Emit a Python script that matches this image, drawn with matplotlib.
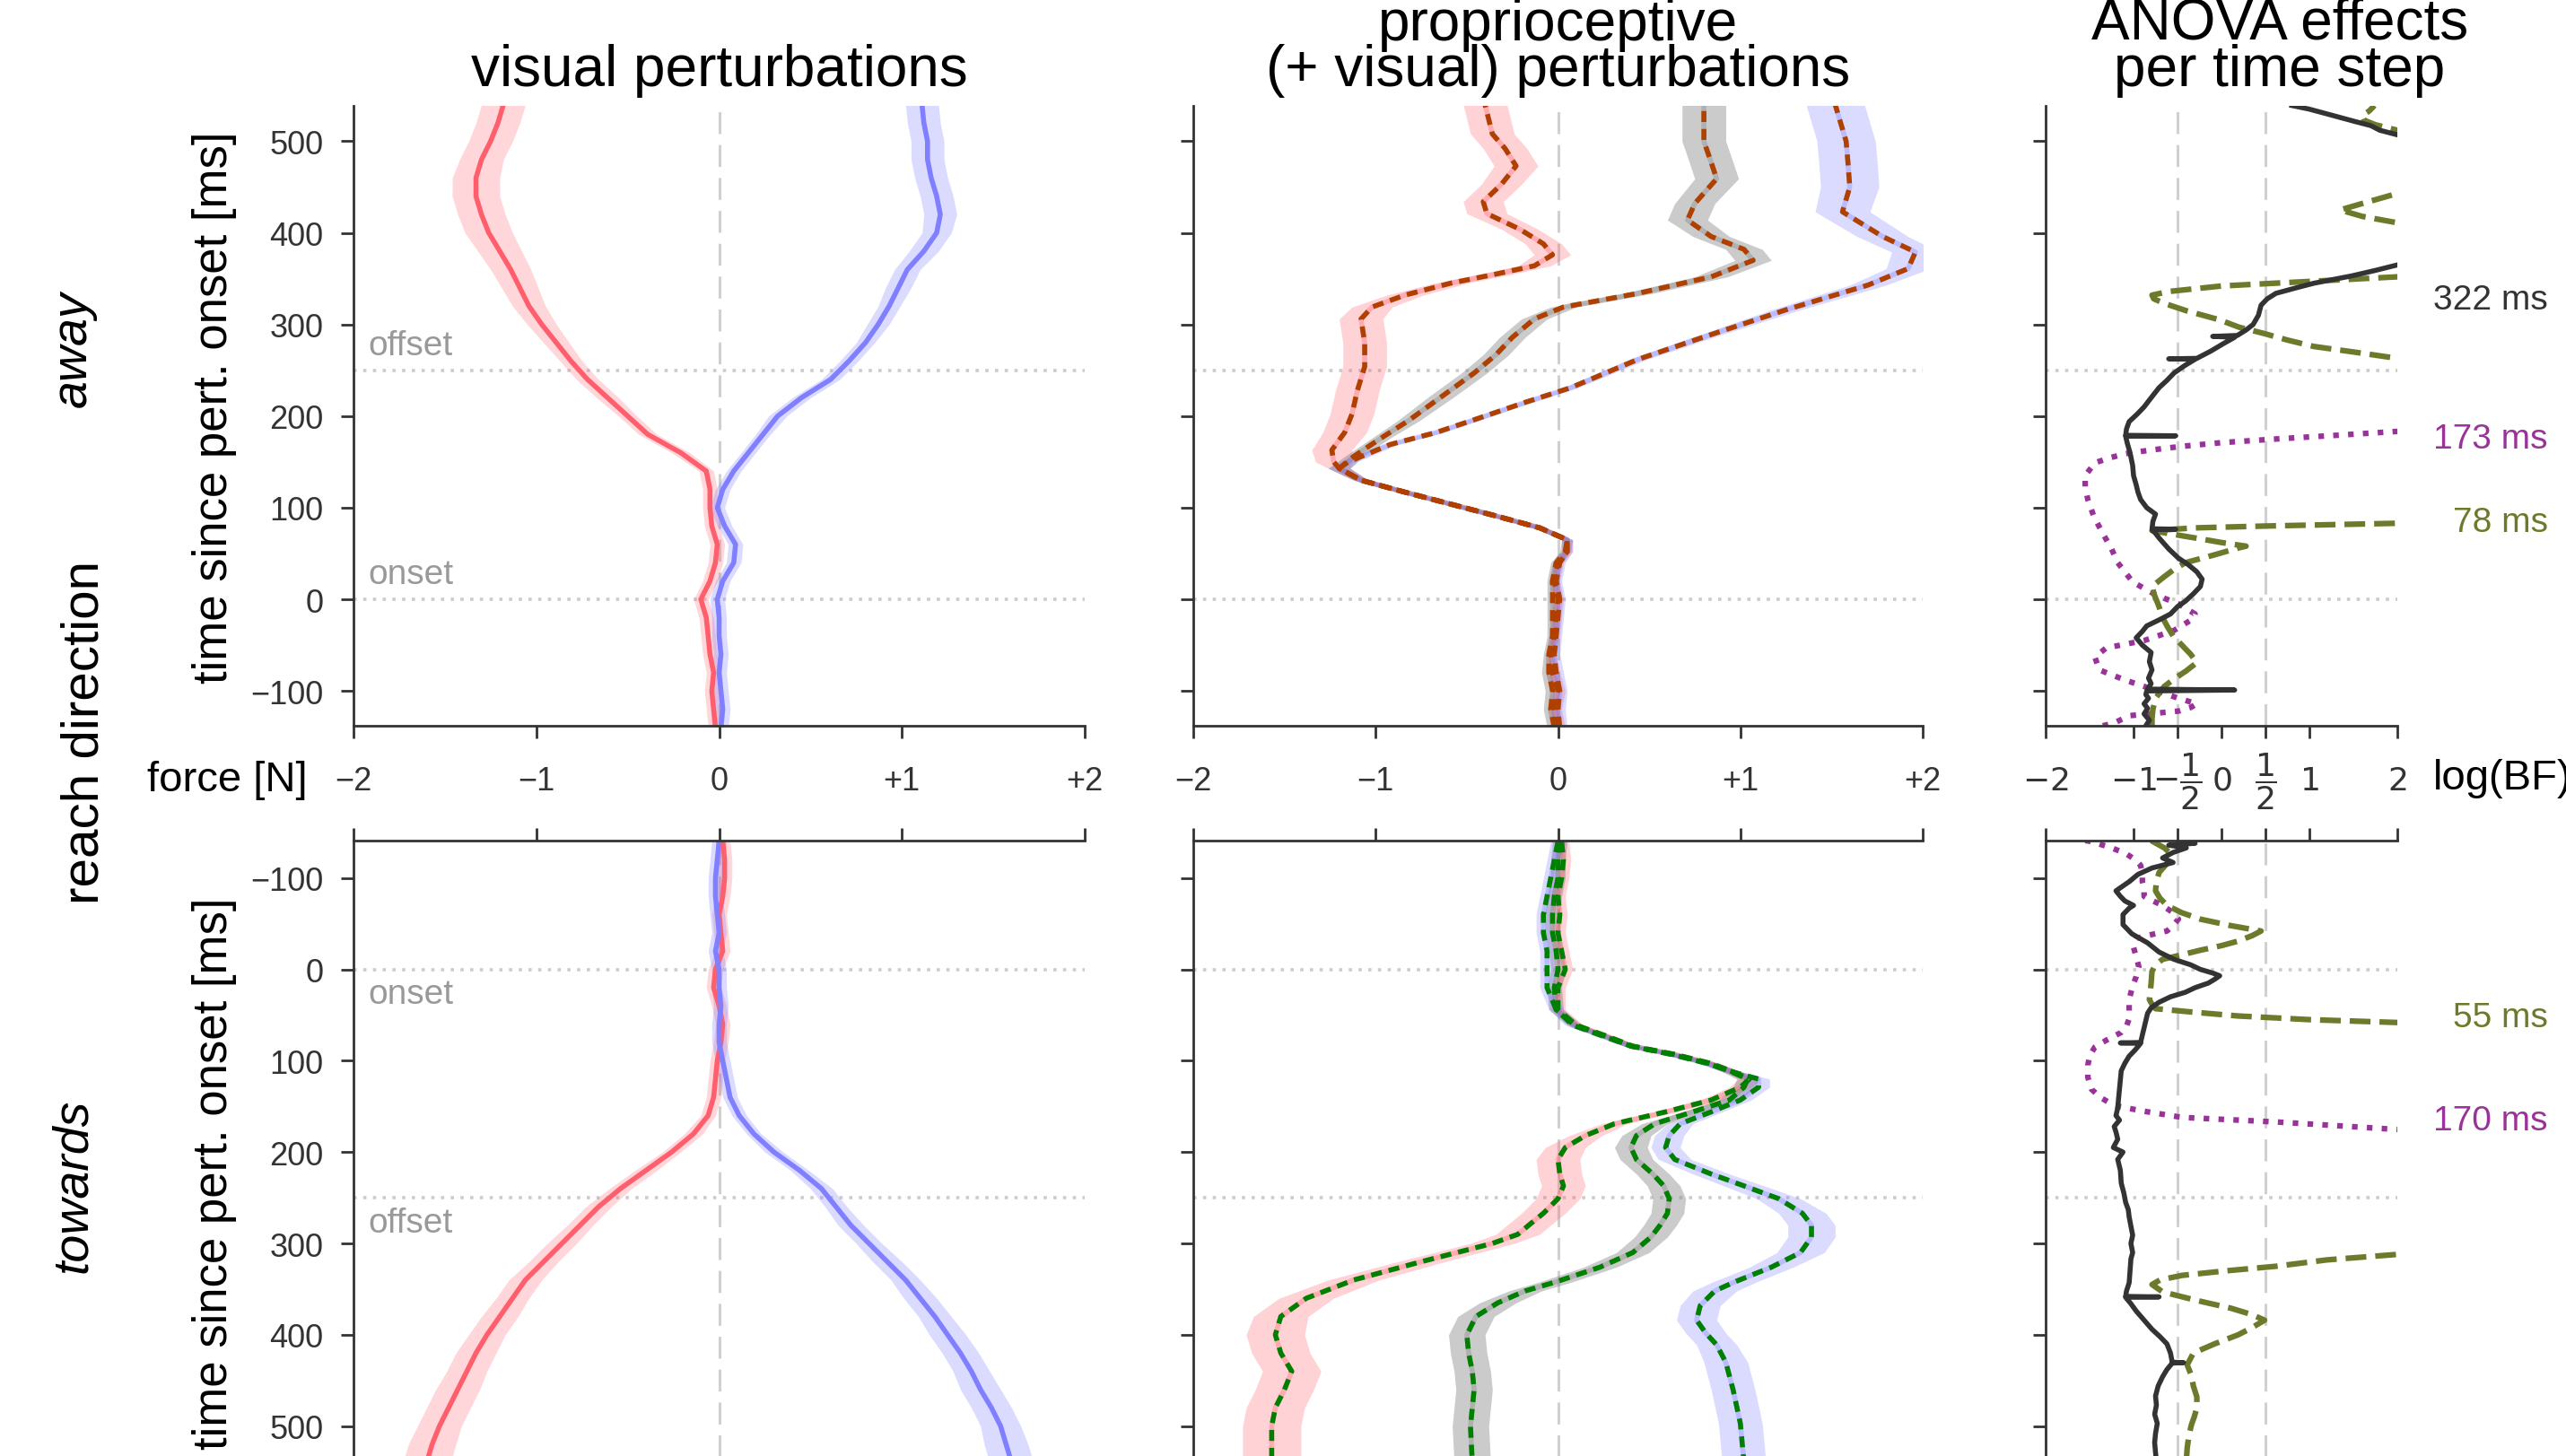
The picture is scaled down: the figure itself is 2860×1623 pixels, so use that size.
import numpy as np
import matplotlib
matplotlib.use("Agg")
import matplotlib.pyplot as plt

plt.rcParams["font.family"] = ["Liberation Sans", "DejaVu Sans"]
plt.rcParams["axes.linewidth"] = 2
plt.rcParams["axes.edgecolor"] = "#333333"

W, H = 2860, 1624

# ---- visual perturbations (left column), 20 ms samples ----
t_vis = np.arange(-140, 541, 20)
vis_away_red = [-0.02, -0.03, -0.04, -0.03, -0.05, -0.06, -0.07, -0.10, -0.05, -0.02, -0.01, -0.04, -0.05, -0.05,
                -0.07, -0.21, -0.39, -0.50, -0.61, -0.72, -0.81, -0.89, -0.97, -1.04, -1.09, -1.14, -1.20, -1.26,
                -1.30, -1.33, -1.33, -1.30, -1.25, -1.21, -1.18]
vis_away_red_se = [0.04] * 15 + [0.05, 0.05, 0.05, 0.06, 0.06, 0.06, 0.07, 0.08, 0.09, 0.10, 0.11, 0.12, 0.13,
                                 0.13, 0.13, 0.13, 0.12, 0.12, 0.12, 0.12]
vis_away_blue = [0.01, 0.02, 0.01, 0.0, 0.01, 0.0, 0.0, -0.01, 0.02, 0.08, 0.09, 0.03, -0.01, 0.02, 0.08, 0.16,
                 0.24, 0.32, 0.45, 0.61, 0.71, 0.80, 0.87, 0.93, 0.98, 1.03, 1.12, 1.19, 1.21, 1.19, 1.16, 1.14,
                 1.14, 1.12, 1.11]
vis_away_blue_se = [0.04] * 15 + [0.04, 0.04, 0.05, 0.05, 0.05, 0.05, 0.05, 0.06, 0.06, 0.07, 0.07, 0.08, 0.08,
                                  0.09, 0.09, 0.09, 0.09, 0.09, 0.09, 0.09]
vis_tow_red = [0.02, 0.03, 0.03, 0.02, 0.0, 0.01, 0.02, -0.02, -0.03, 0.0, 0.02, 0.01, -0.01, -0.02, -0.03,
               -0.06, -0.14, -0.26, -0.40, -0.54, -0.66, -0.76, -0.86, -0.96, -1.06, -1.13, -1.20, -1.27, -1.33,
               -1.38, -1.43, -1.48, -1.53, -1.57, -1.60]
vis_tow_red_se = [0.04] * 15 + [0.04, 0.05, 0.05, 0.06, 0.06, 0.07, 0.07, 0.08, 0.08, 0.09, 0.09, 0.10, 0.10,
                                0.11, 0.11, 0.12, 0.12, 0.12, 0.13, 0.13]
vis_tow_blue = [0.0, -0.01, -0.02, -0.02, -0.01, 0.0, -0.02, 0.0, 0.0, 0.01, 0.0, 0.0, 0.02, 0.04, 0.06, 0.11,
                0.19, 0.30, 0.44, 0.56, 0.64, 0.72, 0.82, 0.92, 1.02, 1.10, 1.18, 1.25, 1.32, 1.38, 1.43, 1.49,
                1.54, 1.57, 1.60]
vis_tow_blue_se = [0.04] * 15 + [0.04, 0.04, 0.05, 0.05, 0.06, 0.06, 0.07, 0.07, 0.08, 0.08, 0.09, 0.09, 0.10,
                                 0.10, 0.10, 0.11, 0.11, 0.11, 0.12, 0.12]

# ---- proprioceptive perturbations, away ----
t_pa_early = [-140, -120, -100, -80, -60, -40, -20, 0, 20, 40, 52, 65, 78, 91, 104, 117, 130, 143]
se_pa_early = [0.04, 0.04, 0.04, 0.04, 0.03, 0.03, 0.03, 0.03, 0.03, 0.03, 0.03, 0.03, 0.03, 0.03, 0.03, 0.03,
               0.04, 0.06]
t_pa_red = t_pa_early + [150, 163, 182, 202, 228, 254, 280, 306, 319, 332, 345, 355, 364, 376, 388, 404, 421, 434,
                         453, 473, 492, 508, 540]
pa_red = [0.0, -0.02, 0.0, -0.03, -0.04, -0.02, -0.01, 0.0, -0.02, 0.0, 0.05, 0.05, -0.10, -0.34, -0.59, -0.84,
          -1.08, -1.20, -1.23, -1.24, -1.17, -1.13, -1.10, -1.06, -1.06, -1.08, -1.02, -0.84, -0.59, -0.34, -0.13,
          -0.03, -0.08, -0.21, -0.39, -0.41, -0.31, -0.23, -0.29, -0.36, -0.40]
pa_red_se = se_pa_early + [0.10, 0.11, 0.12, 0.12, 0.12, 0.12, 0.12, 0.12, 0.11, 0.10, 0.09, 0.09, 0.09, 0.10,
                           0.10, 0.10, 0.11, 0.11, 0.11, 0.12, 0.12, 0.12, 0.12]
t_pa_gray = t_pa_early + [156, 176, 195, 221, 247, 267, 286, 306, 319, 334, 352, 370, 382, 396, 414, 432, 459, 477,
                          500, 540]
pa_gray = [-0.02, -0.04, -0.03, -0.05, -0.05, -0.03, -0.03, -0.03, -0.03, -0.01, 0.04, 0.05, -0.10, -0.34, -0.59,
           -0.84, -1.08, -1.20, -1.12, -0.97, -0.82, -0.64, -0.46, -0.34, -0.25, -0.13, 0.03, 0.44, 0.84, 1.07,
           1.02, 0.84, 0.71, 0.75, 0.87, 0.84, 0.80, 0.80]
pa_gray_se = se_pa_early + [0.05, 0.05, 0.06, 0.07, 0.07, 0.07, 0.07, 0.07, 0.07, 0.08, 0.09, 0.10, 0.10, 0.10,
                            0.11, 0.11, 0.12, 0.12, 0.12, 0.12]
t_pa_blue = t_pa_early + [150, 169, 182, 198, 215, 231, 262, 289, 316, 343, 361, 379, 396, 423, 450, 477, 500, 540]
pa_blue = [0.01, 0.0, 0.01, -0.01, -0.02, -0.01, 0.0, 0.01, -0.01, 0.01, 0.05, 0.05, -0.10, -0.34, -0.59, -0.84,
           -1.08, -1.20, -1.15, -0.92, -0.67, -0.43, -0.18, 0.07, 0.44, 0.84, 1.25, 1.70, 1.92, 1.96, 1.78, 1.56,
           1.60, 1.59, 1.58, 1.52]
pa_blue_se = se_pa_early + [0.05, 0.04, 0.04, 0.04, 0.04, 0.04, 0.05, 0.06, 0.08, 0.10, 0.12, 0.13, 0.14, 0.15,
                            0.16, 0.16, 0.16, 0.16]

# ---- proprioceptive perturbations, towards ----
t_pt_early = [-140, -120, -100, -80, -60, -40, -20, 0, 20, 44, 61, 74, 84, 93, 103, 113]
se_pt_early = [0.04] * 14 + [0.05, 0.05]
t_pt_red = t_pt_early + [120, 129, 143, 156, 169, 182, 195, 208, 224, 237, 251, 267, 280, 290, 300, 320, 340, 360,
                         380, 400, 420, 440, 460, 480, 500, 540]
pt_red = [0.02, 0.03, 0.02, 0.0, 0.01, 0.0, 0.02, 0.04, 0.0, 0.0, 0.10, 0.28, 0.41, 0.64, 0.84, 0.97,
          1.05, 1.00, 0.84, 0.59, 0.31, 0.15, 0.04, 0.0, 0.01, 0.03, 0.0, -0.08, -0.16, -0.22, -0.36, -0.75,
          -1.12, -1.38, -1.52, -1.55, -1.52, -1.46, -1.50, -1.55, -1.57, -1.57]
pt_red_se = se_pt_early + [0.06, 0.06, 0.06, 0.06, 0.07, 0.09, 0.11, 0.12, 0.12, 0.12, 0.12, 0.12, 0.12, 0.12,
                           0.12, 0.13, 0.14, 0.15, 0.15, 0.16, 0.16, 0.16, 0.16, 0.16, 0.16, 0.16]
t_pt_gray = t_pt_early + [120, 129, 143, 156, 169, 182, 195, 208, 224, 237, 251, 267, 280, 293, 310, 326, 342, 352,
                          365, 380, 400, 420, 440, 460, 480, 500, 540]
pt_gray = [0.01, 0.0, 0.0, -0.02, -0.03, -0.03, -0.01, 0.0, -0.02, -0.01, 0.09, 0.27, 0.40, 0.63, 0.83, 0.96,
           1.04, 1.02, 0.94, 0.74, 0.53, 0.43, 0.40, 0.43, 0.52, 0.58, 0.61, 0.60, 0.56, 0.51, 0.41, 0.23, -0.01,
           -0.18, -0.33, -0.45, -0.50, -0.49, -0.47, -0.46, -0.47, -0.48, -0.47]
pt_gray_se = se_pt_early + [0.06, 0.06, 0.06, 0.06, 0.07, 0.08, 0.09, 0.09, 0.09, 0.09, 0.09, 0.09, 0.09, 0.09,
                            0.09, 0.09, 0.09, 0.09, 0.10, 0.10, 0.10, 0.10, 0.10, 0.10, 0.10, 0.10, 0.10]
t_pt_blue = t_pt_early + [120, 129, 143, 156, 169, 182, 195, 208, 224, 237, 251, 267, 280, 293, 310, 326, 342, 352,
                          368, 384, 398, 411, 430, 460, 497, 540]
pt_blue = [0.0, -0.02, -0.04, -0.06, -0.08, -0.08, -0.06, -0.06, -0.06, -0.01, 0.08, 0.26, 0.40, 0.62, 0.82, 0.97,
           1.10, 1.10, 1.00, 0.84, 0.67, 0.61, 0.59, 0.64, 0.84, 1.02, 1.21, 1.34, 1.39, 1.39, 1.33, 1.17, 0.97,
           0.86, 0.78, 0.76, 0.81, 0.87, 0.92, 0.96, 1.00, 1.02]
pt_blue_se = se_pt_early + [0.06, 0.06, 0.06, 0.06, 0.07, 0.08, 0.08, 0.09, 0.10, 0.11, 0.12, 0.13, 0.13, 0.13,
                            0.13, 0.12, 0.12, 0.12, 0.11, 0.11, 0.11, 0.11, 0.12, 0.12, 0.12, 0.12]

# ---- ANOVA log Bayes factors, away ----
t_an_a_k = [-138, -132, -125, -119, -114, -108, -104, -100, -99, -98, -92, -86, -77, -68, -58, -50, -42, -35, -29,
            -22, -16, -8, -2, 6, 14, 22, 30, 38, 45, 55, 67, 72, 76, 76.5, 77, 85, 93, 100, 109, 117, 125, 135,
            146, 160, 170, 178, 178.5, 179, 186, 194, 202, 210, 220, 231, 239, 247, 255, 262, 262.5, 263, 271,
            279, 286, 287, 288, 294, 300, 310, 321, 328, 334, 340, 345, 353, 359, 365, 380, 500, 507, 512, 517,
            522, 528, 535, 539]
an_a_k = [-0.86, -0.82, -0.88, -0.84, -0.88, -0.83, -0.86, -0.85, 0.15, -0.84, -0.8, -0.83, -0.79, -0.82, -0.8,
          -0.9, -0.97, -0.9, -0.85, -0.7, -0.58, -0.5, -0.41, -0.32, -0.24, -0.22, -0.28, -0.38, -0.49, -0.6,
          -0.71, -0.75, -0.79, -0.52, -0.79, -0.78, -0.75, -0.85, -0.92, -0.95, -0.97, -1.0, -1.01, -1.04, -1.07,
          -1.09, -0.52, -1.09, -1.08, -1.05, -0.96, -0.88, -0.8, -0.71, -0.62, -0.54, -0.42, -0.3, -0.6, -0.28,
          -0.12, 0.02, 0.15, -0.1, 0.18, 0.28, 0.36, 0.42, 0.45, 0.52, 0.62, 0.85, 1.05, 1.48, 1.75, 2.0, 2.6,
          2.6, 2.0, 1.8, 1.7, 1.5, 1.27, 1.0, 0.8]
t_an_a_o = [-138, -130, -120, -108, -95, -87, -78, -69, -60, -50, -40, -29, -18, -8, 4, 14, 24, 32, 40, 48, 56,
            58, 62, 66, 71, 75, 78, 80, 83, 90, 255, 263, 270, 276, 283, 290, 297, 305, 315, 323, 328, 332, 336,
            342, 347, 352, 360, 405, 411, 418, 425, 432, 443, 450, 505, 512, 518, 523, 528, 533, 539]
an_a_o = [-0.79, -0.79, -0.78, -0.75, -0.65, -0.54, -0.4, -0.28, -0.35, -0.45, -0.55, -0.62, -0.68, -0.71, -0.76,
          -0.79, -0.66, -0.55, -0.41, -0.1, 0.19, 0.28, 0.0, -0.24, -0.55, -0.79, -0.3, 0.5, 2.0, 3.5, 3.5, 2.0,
          1.5, 1.05, 0.75, 0.49, 0.2, -0.02, -0.4, -0.65, -0.77, -0.79, -0.6, 0.0, 1.0, 2.0, 3.5, 3.5, 2.0, 1.6,
          1.35, 1.6, 2.0, 3.5, 3.5, 2.0, 1.75, 1.62, 1.6, 1.68, 1.74]
t_an_a_p = [-138, -135, -127, -122, -118, -114, -108, -98, -88, -77, -63, -53, -45, -34, -21, -16, -5, 5, 19, 40,
            55, 72, 90, 109, 122, 135, 149, 155, 159, 163, 167, 171, 175, 179, 183, 190, 539]
an_a_p = [-1.35, -1.22, -1.05, -0.49, -0.35, -0.28, -0.49, -0.79, -1.1, -1.39, -1.44, -1.31, -0.88, -0.54, -0.32,
          -0.3, -0.49, -0.75, -1.01, -1.18, -1.25, -1.35, -1.45, -1.52, -1.55, -1.55, -1.44, -1.25, -1.09, -0.8,
          -0.45, 0.0, 0.62, 1.3, 1.95, 3.5, 3.5]

# ---- ANOVA log Bayes factors, towards ----
t_an_t_k = [-141, -138, -136, -133, -128, -122, -117, -111, -104, -96, -86, -80, -75, -70, -67, -60, -49, -39, -29,
            -19, -11, -5, 0, 4, 7, 11, 15, 20, 25, 30, 36, 42, 48, 56, 64, 72, 80, 80.5, 81, 88, 95, 103, 111, 121,
            131, 141, 152, 160, 165, 172, 178, 186, 195, 200, 208, 220, 234, 245, 255, 263, 271, 281, 291, 300,
            310, 317, 330, 343, 352, 358, 358.5, 359, 366, 374, 384, 394, 402, 410, 420, 430, 430.5, 431, 438,
            446, 456, 467, 477, 487, 497, 508, 518, 529, 538]
an_t_k = [-0.49, -0.3, -0.6, -0.4, -0.55, -0.67, -0.55, -0.79, -0.95, -1.05, -1.2, -1.15, -1.1, -1.0, -1.05,
          -1.12, -1.12, -1.02, -0.84, -0.71, -0.54, -0.35, -0.24, -0.1, -0.02, -0.08, -0.15, -0.3, -0.41, -0.58,
          -0.71, -0.8, -0.84, -0.86, -0.88, -0.9, -0.92, -1.15, -0.92, -0.98, -1.05, -1.1, -1.14, -1.15, -1.16,
          -1.17, -1.18, -1.2, -1.16, -1.22, -1.2, -1.18, -1.23, -1.12, -1.18, -1.15, -1.14, -1.11, -1.09, -1.06,
          -1.05, -1.03, -1.01, -1.03, -1.01, -1.03, -1.04, -1.05, -1.08, -1.09, -0.71, -1.09, -1.03, -0.97, -0.88,
          -0.79, -0.7, -0.62, -0.58, -0.56, -0.43, -0.56, -0.62, -0.67, -0.72, -0.75, -0.74, -0.76, -0.73, -0.75,
          -0.76, -0.75, -0.74]
t_an_t_o = [-141, -133, -127, -118, -106, -96, -86, -78, -70, -62, -55, -48, -42, -37, -31, -26, -21, -16, -11, -5,
            2, 15, 25, 33, 40, 43, 47, 51, 55, 58, 62, 305, 312, 318, 325, 330, 335, 340, 345, 353, 362, 371, 378,
            384, 392, 400, 410, 420, 433, 445, 456, 468, 480, 490, 498, 510, 524, 538]
an_t_o = [-0.8, -0.65, -0.58, -0.6, -0.71, -0.74, -0.75, -0.7, -0.62, -0.45, -0.24, 0.1, 0.45, 0.35, 0.19, 0.0,
          -0.24, -0.45, -0.67, -0.75, -0.79, -0.8, -0.81, -0.82, -0.78, -0.75, -0.3, 0.19, 1.0, 1.95, 3.5, 3.5,
          2.0, 1.2, 0.62, 0.05, -0.45, -0.7, -0.79, -0.67, -0.3, 0.11, 0.35, 0.49, 0.35, 0.19, -0.08, -0.32,
          -0.39, -0.34, -0.32, -0.28, -0.28, -0.31, -0.34, -0.37, -0.39, -0.4]
t_an_t_p = [-141, -140, -133, -127, -120, -114, -105, -96, -88, -80, -75, -70, -62, -55, -48, -42, -38, -34, -29,
            -24, -14, -3, 8, 18, 33, 44, 54, 62, 69, 77, 85, 95, 105, 118, 131, 140, 149, 155, 162, 167, 171, 175,
            182, 538]
an_t_p = [-1.55, -1.48, -1.25, -1.09, -0.98, -0.92, -0.9, -0.9, -0.88, -0.88, -0.78, -0.67, -0.55, -0.49, -0.55,
          -0.62, -0.8, -0.97, -1.0, -1.0, -0.97, -0.94, -0.97, -1.01, -1.05, -1.05, -1.05, -1.08, -1.14, -1.3,
          -1.44, -1.5, -1.52, -1.52, -1.48, -1.38, -1.22, -0.9, -0.45, 0.62, 1.3, 1.95, 3.5, 3.5]

force_ticks = [-2, -1, 0, 1, 2]
force_labels = ["\u22122", "\u22121", "0", "+1", "+2"]
bf_ticks = [-2, -1, -0.5, 0, 0.5, 1, 2]
bf_labels = [r"$-2$", r"$-1$", r"$-\dfrac{1}{2}$", r"$0$", r"$\dfrac{1}{2}$", r"$1$", r"$2$"]
time_ticks = [-100, 0, 100, 200, 300, 400, 500]

RED, BLUE, GRAY = "#ff5f6d", "#7f7fff", "#7f7f7f"
BROWN, GREEN = "#b04000", "#008000"
K, OLIVE, PURPLE = "#333333", "#6b7b2b", "#993399"


def fpos(x, y):
    return x / W, 1 - y / H


fig = plt.figure(figsize=(W / 100, H / 100), dpi=100)
cols = [(394, 815), (1330, 813), (2280, 392)]
rows = [(118.6, 691.4), (938, 691.4)]
axes = [[None] * 3 for _ in range(2)]
for r, (top, h) in enumerate(rows):
    for c, (left, w) in enumerate(cols):
        ax = fig.add_axes([left / W, 1 - (top + h) / H, w / W, h / H])
        axes[r][c] = ax
        ax.set_xlim(-2, 2)
        if r == 0:
            ax.set_ylim(-138, 539)
            ax.spines[["top", "right"]].set_visible(False)
            ax.xaxis.set_ticks_position("bottom")
        else:
            ax.set_ylim(538, -141)
            ax.spines[["bottom", "right"]].set_visible(False)
            ax.xaxis.set_ticks_position("top")
        ax.tick_params(direction="out", length=10, width=2, colors="#333333", labelsize=26)
        ax.tick_params(axis="y", pad=14)
        ax.set_yticks(time_ticks)
        if c > 0:
            ax.set_yticklabels([])
        if c < 2:
            ax.set_xticks(force_ticks)
            ax.axvline(0, color="#d0d0d0", lw=2.2, ls=(0, (8, 4)), zorder=0)
        else:
            ax.set_xticks(bf_ticks)
            for v in (-0.5, 0.5):
                ax.axvline(v, color="#d0d0d0", lw=2.2, ls=(0, (8, 4)), zorder=0)
        if r == 0:
            ax.set_xticklabels(force_labels if c < 2 else bf_labels, va="center")
            ax.tick_params(axis="x", pad=34)
        else:
            ax.tick_params(axis="x", labeltop=False, labelbottom=False)
        for tv in (0, 250):
            ax.axhline(tv, color="#cccccc", lw=2.6, ls=(0, (1, 2)), zorder=0)
        if c == 0:
            ax.text(-1.92, 27, "onset", color="#999999", fontsize=28, va="center")
            ax.text(-1.92, 277, "offset", color="#999999", fontsize=28, va="center")


def band(ax, t, x, se, color, a_band, a_line):
    x = np.asarray(x)
    se = np.asarray(se)
    ax.fill_betweenx(t, x - se, x + se, color=color, alpha=a_band, lw=0)
    ax.plot(x, t, color=color, alpha=a_line, lw=4)


# visual
band(axes[0][0], t_vis, vis_away_red, vis_away_red_se, RED, 0.25, 1)
band(axes[0][0], t_vis, vis_away_blue, vis_away_blue_se, BLUE, 0.28, 1)
band(axes[1][0], t_vis, vis_tow_red, vis_tow_red_se, RED, 0.25, 1)
band(axes[1][0], t_vis, vis_tow_blue, vis_tow_blue_se, BLUE, 0.28, 1)

# proprioceptive
dash = (0, (2.2, 1.4))
for ax, curves, dcol in [
    (axes[0][1], [(t_pa_red, pa_red, pa_red_se, RED), (t_pa_gray, pa_gray, pa_gray_se, GRAY),
                  (t_pa_blue, pa_blue, pa_blue_se, BLUE)], BROWN),
    (axes[1][1], [(t_pt_red, pt_red, pt_red_se, RED), (t_pt_gray, pt_gray, pt_gray_se, GRAY),
                  (t_pt_blue, pt_blue, pt_blue_se, BLUE)], GREEN),
]:
    for t, x, se, col in curves:
        band(ax, t, x, se, col, 0.28 if col != GRAY else 0.4, 0.35)
    for t, x, se, col in curves:
        ax.plot(x, t, color=dcol, lw=4, ls=dash)

# ANOVA
for ax, (tk, k, to, o, tp, p) in [
    (axes[0][2], (t_an_a_k, an_a_k, t_an_a_o, an_a_o, t_an_a_p, an_a_p)),
    (axes[1][2], (t_an_t_k, an_t_k, t_an_t_o, an_t_o, t_an_t_p, an_t_p)),
]:
    ax.plot(p, tp, color=PURPLE, lw=4.5, ls=":")
    ax.plot(o, to, color=OLIVE, lw=4.5, ls="--")
    ax.plot(k, tk, color=K, lw=4)

for ax, lbls in [(axes[0][2], [("322 ms", 327, K), ("173 ms", 175, PURPLE), ("78 ms", 84, OLIVE)]),
                 (axes[1][2], [("55 ms", 52, OLIVE), ("170 ms", 165, PURPLE)])]:
    for s, tv, col in lbls:
        ax.text(3.71, tv, s, color=col, fontsize=28, ha="right", va="center", clip_on=False)

# titles
axes[0][0].set_title("visual perturbations", fontsize=46, pad=16)
axes[0][1].set_title("proprioceptive\n(+ visual) perturbations", fontsize=46, pad=16, linespacing=0.82)
axes[0][2].set_title("ANOVA effects\nper time step", fontsize=46, pad=16, linespacing=0.85, x=0.665)

# labels
fig.text(*fpos(343, 870), "force [N]", fontsize=34, ha="right", va="center")
fig.text(*fpos(2712, 868), "log(BF)", fontsize=34, ha="left", va="center")
fig.text(*fpos(239, 454), "time since pert. onset [ms]", fontsize=38, rotation=90, ha="center", va="center")
fig.text(*fpos(239, 1308), "time since pert. onset [ms]", fontsize=38, rotation=90, ha="center", va="center")
fig.text(*fpos(95, 817), "reach direction", fontsize=42, rotation=90, ha="center", va="center")
fig.text(*fpos(82, 389), "away", fontsize=40, rotation=90, ha="center", va="center", style="italic")
fig.text(*fpos(82, 1322), "towards", fontsize=40, rotation=90, ha="center", va="center", style="italic")

fig.savefig("out.png", dpi=100)
